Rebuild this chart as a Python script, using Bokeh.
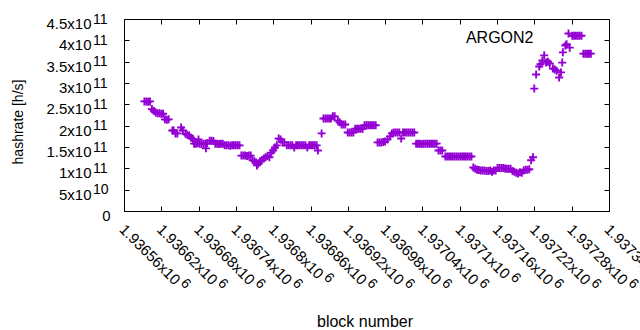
from math import pi
from bokeh.plotting import figure
from bokeh.models import (Range1d, FixedTicker, LinearAxis, Label, Legend, LegendItem,
                          CustomLabelingPolicy)
from bokeh.embed import file_html
from bokeh.resources import INLINE

# ---------------- data ----------------
blocks = [
    1936592, 1936595, 1936598, 1936601, 1936604, 1936607, 1936610, 1936613, 1936616, 1936619,
    1936622, 1936625, 1936628, 1936631, 1936637, 1936639, 1936642, 1936645, 1936651, 1936654,
    1936658, 1936661, 1936664, 1936667, 1936670, 1936672, 1936675, 1936678, 1936679, 1936681,
    1936684, 1936687, 1936690, 1936691, 1936693, 1936697, 1936700, 1936703, 1936706, 1936709,
    1936712, 1936715, 1936718, 1936721, 1936724, 1936727, 1936730, 1936733, 1936736, 1936739,
    1936742, 1936745, 1936748, 1936751, 1936754, 1936757, 1936760, 1936763, 1936766, 1936769,
    1936772, 1936773, 1936775, 1936778, 1936781, 1936784, 1936787, 1936790, 1936793, 1936796,
    1936799, 1936802, 1936805, 1936808, 1936811, 1936814, 1936817, 1936821, 1936824, 1936827,
    1936830, 1936833, 1936836, 1936839, 1936842, 1936845, 1936848, 1936851, 1936854, 1936857,
    1936860, 1936863, 1936866, 1936869, 1936871, 1936877, 1936880, 1936883, 1936886, 1936889,
    1936892, 1936895, 1936898, 1936903, 1936906, 1936909, 1936912, 1936915, 1936919, 1936922,
    1936925, 1936928, 1936931, 1936934, 1936937, 1936940, 1936943, 1936946, 1936949, 1936952,
    1936955, 1936958, 1936961, 1936964, 1936967, 1936970, 1936973, 1936976, 1936979, 1936983,
    1936987, 1936990, 1936993, 1936996, 1936999, 1937002, 1937005, 1937008, 1937011, 1937014,
    1937017, 1937020, 1937023, 1937026, 1937029, 1937032, 1937035, 1937038, 1937041, 1937044,
    1937047, 1937050, 1937053, 1937056, 1937059, 1937062, 1937065, 1937068, 1937071, 1937076,
    1937079, 1937082, 1937085, 1937088, 1937091, 1937094, 1937097, 1937100, 1937103, 1937106,
    1937109, 1937112, 1937115, 1937118, 1937121, 1937124, 1937127, 1937130, 1937133, 1937136,
    1937139, 1937142, 1937145, 1937148, 1937151, 1937154, 1937157, 1937160, 1937163, 1937166,
    1937169, 1937172, 1937175, 1937178, 1937181, 1937184, 1937187, 1937190, 1937193, 1937196,
    1937199, 1937202, 1937205, 1937208, 1937211, 1937214, 1937217, 1937219, 1937222, 1937227,
    1937229, 1937232, 1937235, 1937238, 1937241, 1937244, 1937249, 1937252, 1937255, 1937259,
    1937262, 1937264, 1937265, 1937269, 1937271, 1937276, 1937280, 1937283, 1937286, 1937289,
    1937292, 1937295, 1937298, 1937301, 1937304, 1937307, 1937310,
]
hashrate = [
    2.58e11, 2.58e11, 2.57e11, 2.58e11, 2.40e11, 2.36e11, 2.32e11, 2.30e11, 2.30e11, 2.29e11,
    2.29e11, 2.16e11, 2.15e11, 2.16e11, 1.90e11, 1.90e11, 1.83e11, 1.83e11, 1.97e11, 1.90e11,
    1.82e11, 1.80e11, 1.78e11, 1.73e11, 1.70e11, 1.59e11, 1.59e11, 1.60e11, 1.69e11, 1.59e11,
    1.58e11, 1.59e11, 1.59e11, 1.48e11, 1.60e11, 1.66e11, 1.66e11, 1.65e11, 1.59e11, 1.59e11,
    1.58e11, 1.59e11, 1.59e11, 1.55e11, 1.55e11, 1.55e11, 1.54e11, 1.55e11, 1.55e11, 1.55e11,
    1.55e11, 1.55e11, 1.31e11, 1.31e11, 1.31e11, 1.30e11, 1.31e11, 1.31e11, 1.20e11, 1.18e11,
    1.15e11, 1.08e11, 1.12e11, 1.18e11, 1.20e11, 1.24e11, 1.27e11, 1.30e11, 1.27e11, 1.38e11,
    1.43e11, 1.50e11, 1.55e11, 1.71e11, 1.69e11, 1.62e11, 1.62e11, 1.55e11, 1.55e11, 1.55e11,
    1.55e11, 1.50e11, 1.55e11, 1.55e11, 1.55e11, 1.55e11, 1.55e11, 1.55e11, 1.50e11, 1.55e11,
    1.55e11, 1.55e11, 1.55e11, 1.55e11, 1.43e11, 1.83e11, 2.18e11, 2.18e11, 2.18e11, 2.18e11,
    2.18e11, 2.23e11, 2.23e11, 2.13e11, 2.09e11, 2.04e11, 2.04e11, 2.04e11, 1.85e11, 1.85e11,
    1.85e11, 1.85e11, 1.94e11, 1.94e11, 1.94e11, 1.94e11, 1.94e11, 2.02e11, 2.02e11, 2.02e11,
    2.02e11, 2.02e11, 2.02e11, 2.02e11, 1.62e11, 1.62e11, 1.62e11, 1.63e11, 1.64e11, 1.69e11,
    1.76e11, 1.83e11, 1.85e11, 1.85e11, 1.85e11, 1.85e11, 1.71e11, 1.85e11, 1.85e11, 1.85e11,
    1.85e11, 1.85e11, 1.85e11, 1.85e11, 1.59e11, 1.59e11, 1.59e11, 1.58e11, 1.59e11, 1.59e11,
    1.59e11, 1.59e11, 1.59e11, 1.59e11, 1.59e11, 1.59e11, 1.43e11, 1.43e11, 1.43e11, 1.29e11,
    1.29e11, 1.29e11, 1.29e11, 1.29e11, 1.29e11, 1.29e11, 1.29e11, 1.29e11, 1.29e11, 1.29e11,
    1.29e11, 1.29e11, 1.29e11, 1.29e11, 1.03e11, 1.00e11, 0.98e11, 0.97e11, 0.96e11, 0.96e11,
    0.96e11, 0.95e11, 0.95e11, 0.96e11, 0.93e11, 0.96e11, 0.96e11, 1.02e11, 1.02e11, 1.02e11,
    1.02e11, 1.01e11, 1.00e11, 1.00e11, 1.00e11, 0.95e11, 0.93e11, 0.91e11, 0.89e11, 0.92e11,
    0.91e11, 0.96e11, 0.98e11, 0.98e11, 0.99e11, 1.20e11, 1.27e11, 2.88e11, 3.21e11, 3.40e11,
    3.45e11, 3.54e11, 3.66e11, 3.49e11, 3.51e11, 3.47e11, 3.35e11, 3.33e11, 3.30e11, 3.14e11,
    3.26e11, 3.49e11, 3.73e11, 3.89e11, 3.92e11, 3.84e11, 4.12e11, 4.12e11, 4.12e11, 4.12e11,
    4.12e11, 4.12e11, 3.70e11, 3.70e11, 3.70e11, 3.70e11, 3.70e11,
]

x_tick_labels = ["1.93656", "1.93662", "1.93668", "1.93674", "1.9368", "1.93686", "1.93692",
                 "1.93698", "1.93704", "1.9371", "1.93716", "1.93722", "1.93728", "1.93734"]
x_tick_exponent = "6"
y_tick_values = [0, 5e10, 1e11, 1.5e11, 2e11, 2.5e11, 3e11, 3.5e11, 4e11, 4.5e11]
y_tick_mantissas = ["0", "5", "1", "1.5", "2", "2.5", "3", "3.5", "4", "4.5"]
y_tick_exponents = ["", "10", "11", "11", "11", "11", "11", "11", "11", "11"]
series_name = "ARGON2"
x_title = "block number"
y_title = "hashrate [h/s]"

# ---------------- layout / style ----------------
W, H = 640, 330
PL, PR, PT, PB = 124, 609, 19, 211          # plot box edges in pixels
FONT = "Liberation Sans"
FS = 15
SUP_FS = 14
COLOR = "#9400d3"
ADV = {".": 0.278, "x": 0.5}


def text_width(s, fs):
    return sum(ADV.get(c, 0.556) for c in s) * fs


x_tick_values = [round(float(s) * 10 ** int(x_tick_exponent)) for s in x_tick_labels]
x0, x1 = x_tick_values[0], x_tick_values[-1]
y0, y1 = y_tick_values[0], y_tick_values[-1]
dx = (x1 - x0) / (PR - PL)
dy = (y1 - y0) / (PB - PT)

p = figure(width=W, height=H, output_backend="svg", toolbar_location=None,
           x_range=Range1d(x0 - PL * dx, x1 + (W - PR) * dx),
           y_range=Range1d(y0 - (H - PB) * dy, y1 + PT * dy),
           x_axis_type=None, y_axis_type=None, min_border=0,
           min_border_left=0, min_border_right=0, min_border_top=0, min_border_bottom=0)
p.outline_line_color = None
p.background_fill_color = "white"
p.border_fill_color = "white"

no_labels = CustomLabelingPolicy(code="""
for (const i of indices) { indices.unset(i) }
return indices
""")


def make_axis(ticks, loc, bounds):
    return LinearAxis(ticker=FixedTicker(ticks=ticks), fixed_location=loc, bounds=bounds,
                      major_tick_in=5, major_tick_out=0, minor_tick_in=0, minor_tick_out=0,
                      major_label_policy=no_labels, major_label_standoff=0,
                      axis_line_color="black", major_tick_line_color="black",
                      axis_line_width=1, major_tick_line_width=1)


p.add_layout(make_axis(x_tick_values, y0, (x0, x1)), "below")
p.add_layout(make_axis(x_tick_values, y1, (x0, x1)), "above")
p.add_layout(make_axis(y_tick_values, x0, (y0, y1)), "left")
p.add_layout(make_axis(y_tick_values, x1, (y0, y1)), "right")

r = p.scatter(blocks, hashrate, marker="cross", size=8, line_color=COLOR, line_width=1.9)

# legend sample (glyph only); its text is drawn on its left, as gnuplot does
leg = Legend(items=[LegendItem(label=" ", renderers=[r])], location=(558, H - 33 - 10),
             glyph_width=20, glyph_height=20, padding=0, margin=0, spacing=0,
             label_standoff=0, label_text_font_size="1px", border_line_color=None,
             background_fill_alpha=0)
p.add_layout(leg)
p.add_layout(Label(x=x1, y=y1, x_offset=-76, y_offset=-18, text=series_name,
                   text_align="right", text_baseline="alphabetic",
                   text_font=FONT, text_font_size="16px", text_color="black"))

# x tick labels (rotated, with superscript exponent)
C = 0.70711
for v, s in zip(x_tick_values, x_tick_labels):
    main = s + "x10"
    w = text_width(main, FS) + 3
    p.add_layout(Label(x=v, y=y0, x_offset=-2, y_offset=-15, text=main, angle=-pi / 4,
                       text_align="left", text_baseline="alphabetic",
                       text_font=FONT, text_font_size=f"{FS}px", text_color="black"))
    p.add_layout(Label(x=v, y=y0, x_offset=-2 + C * (w + 5), y_offset=-15 - C * (w - 5),
                       text=x_tick_exponent, angle=-pi / 4,
                       text_align="left", text_baseline="alphabetic",
                       text_font=FONT, text_font_size=f"{SUP_FS}px", text_color="black"))

# y tick labels
for v, m, e in zip(y_tick_values, y_tick_mantissas, y_tick_exponents):
    if e:
        p.add_layout(Label(x=x0, y=v, x_offset=-33, y_offset=-4, text=m + "x10",
                           text_align="right", text_baseline="alphabetic",
                           text_font=FONT, text_font_size=f"{FS}px", text_color="black"))
        p.add_layout(Label(x=x0, y=v, x_offset=-31.5, y_offset=1, text=e,
                           text_align="left", text_baseline="alphabetic",
                           text_font=FONT, text_font_size=f"{SUP_FS}px", text_color="black"))
    else:
        p.add_layout(Label(x=x0, y=v, x_offset=-14, y_offset=-4, text=m,
                           text_align="right", text_baseline="alphabetic",
                           text_font=FONT, text_font_size=f"{FS}px", text_color="black"))

# axis titles
p.add_layout(Label(x=x0, y=y0, x_offset=-107, y_offset=89.5, text=y_title, angle=pi / 2,
                   text_align="center", text_baseline="middle",
                   text_font=FONT, text_font_size="14px", text_color="black"))
p.add_layout(Label(x=(x0 + x1) / 2, y=y0, x_offset=-2, y_offset=-110, text=x_title,
                   text_align="center", text_baseline="alphabetic",
                   text_font=FONT, text_font_size="16px", text_color="black"))

open("out.html", "w").write(file_html(p, INLINE))
